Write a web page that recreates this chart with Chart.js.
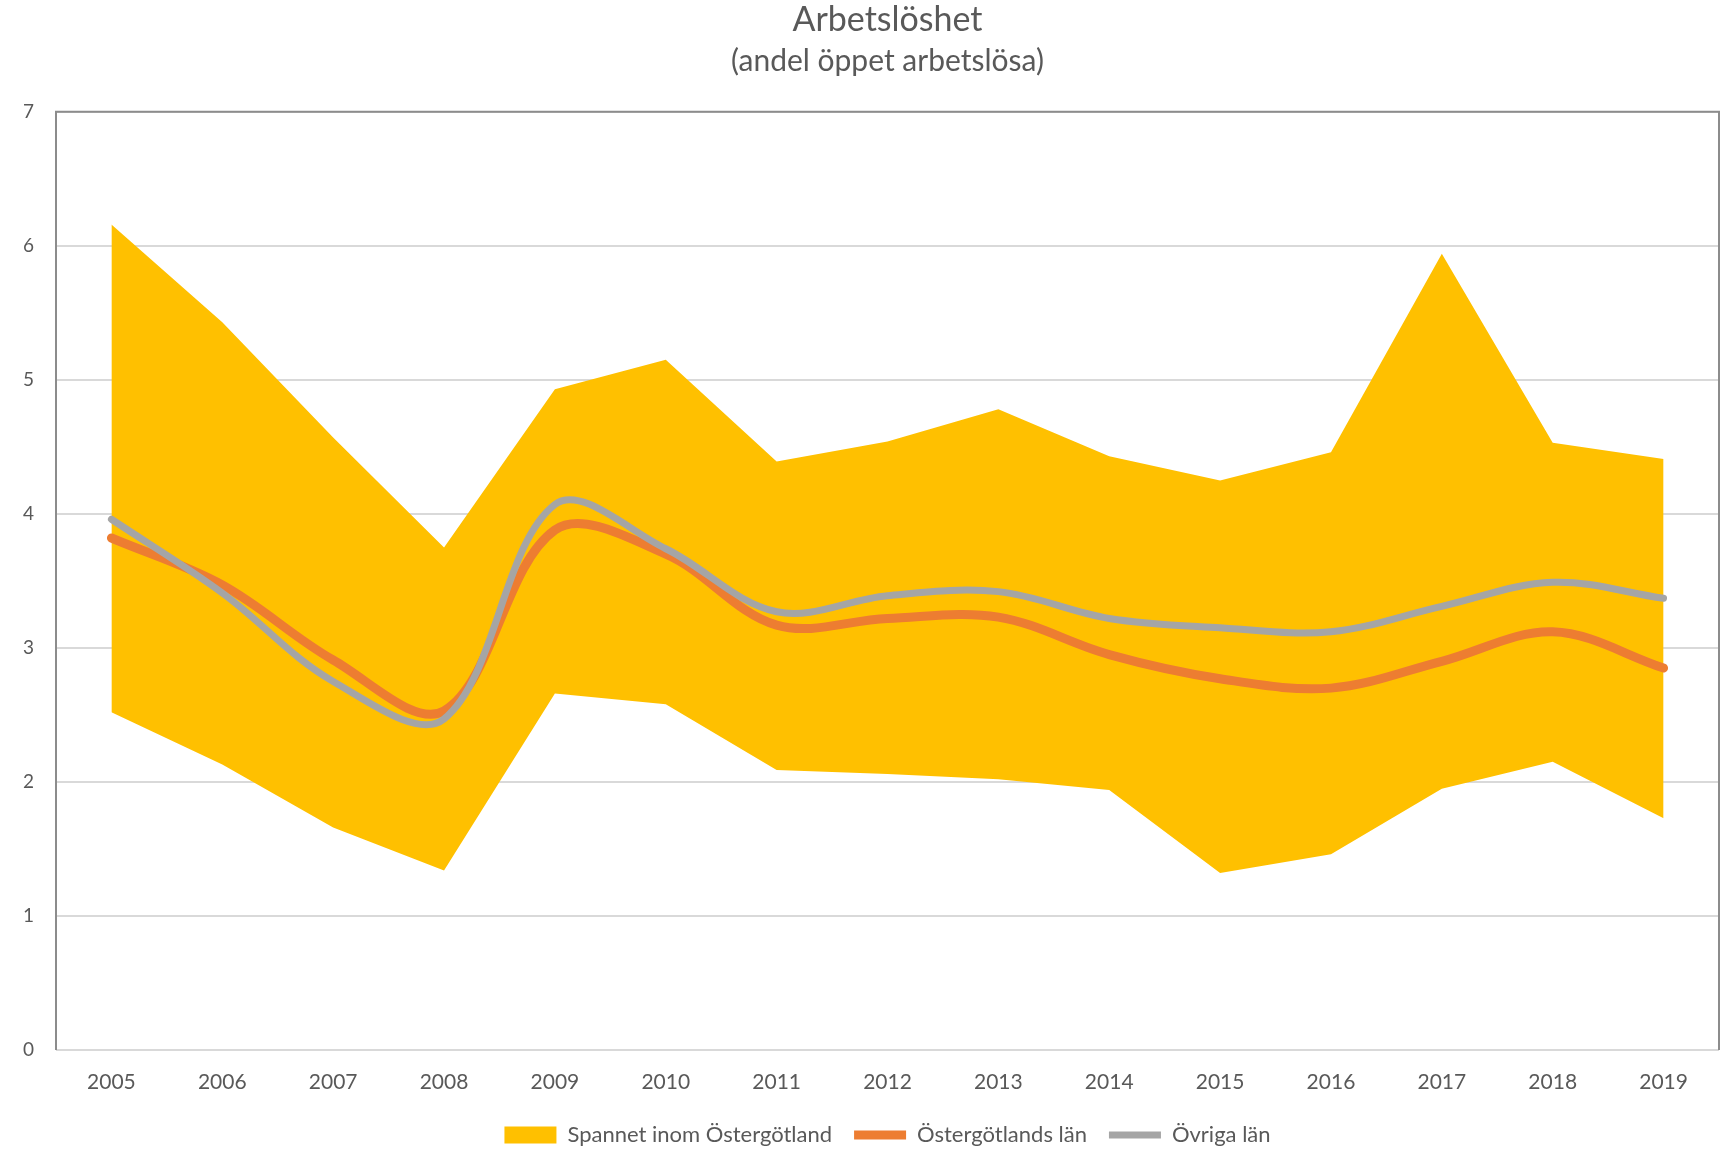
<!DOCTYPE html>
<html>
<head>
<meta charset="utf-8">
<title>Arbetslöshet</title>
<script src="https://cdn.jsdelivr.net/npm/chart.js@4"></script>
<style>
  html, body { margin: 0; padding: 0; background: #fff; }
  #wrap { width: 1732px; height: 1150px; }
</style>
</head>
<body>
<div id="wrap"><canvas id="chart" width="1732" height="1150"></canvas></div>
<script>
// data
const years = ['2005', '2006', '2007', '2008', '2009', '2010', '2011', '2012', '2013', '2014', '2015', '2016', '2017', '2018', '2019'];
const spanMin = [2.52, 2.13, 1.66, 1.34, 2.66, 2.58, 2.09, 2.06, 2.02, 1.94, 1.32, 1.46, 1.95, 2.15, 1.73];
const spanMax = [6.16, 5.43, 4.57, 3.75, 4.93, 5.15, 4.39, 4.54, 4.78, 4.43, 4.25, 4.46, 5.94, 4.53, 4.41];
const ostergotland = [3.82, 3.47, 2.91, 2.53, 3.88, 3.70, 3.17, 3.22, 3.23, 2.95, 2.77, 2.70, 2.90, 3.12, 2.85];
const ovrigaLan = [3.96, 3.41, 2.75, 2.47, 4.07, 3.74, 3.27, 3.39, 3.42, 3.22, 3.15, 3.12, 3.31, 3.49, 3.37];
const yTicks = [0, 1, 2, 3, 4, 5, 6, 7];

const textColor = '#595959';
const fontFamily = 'Lato, "Open Sans", sans-serif';

// box around the plot area: dark on left/top/right, light at the bottom
const plotFrame = {
    id: 'plotFrame',
    afterDatasetsDraw(chart) {
        const a = chart.chartArea;
        const ctx = chart.ctx;
        ctx.save();
        ctx.lineWidth = 2;
        ctx.strokeStyle = '#d9d9d9';
        ctx.beginPath();
        ctx.moveTo(a.left, a.bottom);
        ctx.lineTo(a.right, a.bottom);
        ctx.stroke();
        ctx.strokeStyle = '#8c8c8c';
        ctx.beginPath();
        ctx.moveTo(a.left, a.bottom);
        ctx.lineTo(a.left, a.top);
        ctx.lineTo(a.right, a.top);
        ctx.lineTo(a.right, a.bottom);
        ctx.stroke();
        ctx.restore();
    }
};

const ctx = document.getElementById('chart').getContext('2d');
new Chart(ctx, {
    type: 'line',
    data: {
        labels: years,
        datasets: [{
            label: 'min',
            data: spanMin,
            borderWidth: 0,
            pointRadius: 0,
            tension: 0,
            fill: false,
            order: 3
        }, {
            label: 'Spannet inom Östergötland',
            data: spanMax,
            backgroundColor: '#ffc000',
            borderColor: '#ffc000',
            borderWidth: 0,
            pointRadius: 0,
            pointStyle: 'rect',
            tension: 0,
            fill: '-1',
            order: 2
        }, {
            label: 'Östergötlands län',
            data: ostergotland,
            borderColor: '#ed7d31',
            backgroundColor: '#ed7d31',
            borderWidth: 9,
            borderCapStyle: 'round',
            pointRadius: 0,
            pointStyle: 'line',
            tension: 0.35,
            fill: false,
            order: 1
        }, {
            label: 'Övriga län',
            data: ovrigaLan,
            borderColor: '#a5a5a5',
            backgroundColor: '#a5a5a5',
            borderWidth: 7,
            borderCapStyle: 'round',
            pointRadius: 0,
            pointStyle: 'line',
            tension: 0.35,
            fill: false,
            order: 0
        }]
    },
    options: {
        responsive: false,
        animation: false,
        layout: {
            padding: { left: 0, right: 13, top: 0, bottom: 0 }
        },
        scales: {
            x: {
                offset: true,
                grid: { display: false, drawTicks: false },
                border: { display: false },
                ticks: {
                    color: textColor,
                    font: { family: fontFamily, size: 21 },
                    padding: 20,
                    maxRotation: 0
                },
                afterFit(scale) { scale.height = 52; }
            },
            y: {
                min: 0,
                max: 7,
                afterBuildTicks(scale) { scale.ticks = yTicks.map(v => ({ value: v })); },
                grid: { color: '#d9d9d9', lineWidth: 2, drawTicks: false },
                border: { display: false },
                ticks: {
                    color: textColor,
                    font: { family: fontFamily, size: 19 },
                    padding: 22
                },
                afterFit(scale) { scale.width = 56; }
            }
        },
        plugins: {
            filler: { drawTime: 'beforeDatasetsDraw' },
            title: {
                display: true,
                fullSize: false,
                text: 'Arbetslöshet',
                color: textColor,
                font: { family: fontFamily, size: 34, weight: 'normal' },
                padding: { top: 0, bottom: 3 }
            },
            subtitle: {
                display: true,
                fullSize: false,
                text: '(andel öppet arbetslösa)',
                color: textColor,
                font: { family: fontFamily, size: 30 },
                padding: { top: 0, bottom: 32 }
            },
            legend: {
                position: 'bottom',
                fullSize: false,
                maxHeight: 48,
                labels: {
                    color: textColor,
                    font: { family: fontFamily, size: 22 },
                    usePointStyle: true,
                    pointStyleWidth: 52,
                    boxHeight: 17,
                    padding: 22,
                    filter: item => item.datasetIndex !== 0,
                    sort: (a, b) => a.datasetIndex - b.datasetIndex
                }
            },
            tooltip: { enabled: false }
        }
    },
    plugins: [plotFrame]
});
</script>
</body>
</html>
